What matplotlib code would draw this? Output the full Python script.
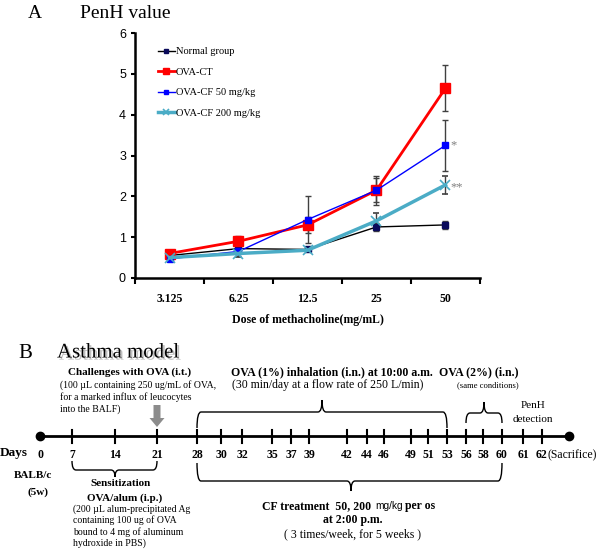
import matplotlib
matplotlib.use('Agg')
import matplotlib.pyplot as plt
import matplotlib.patheffects as pe
from matplotlib.path import Path
from matplotlib.patches import PathPatch, FancyArrow
import numpy as np

# ---- panel A data ----
doses = ['3.125', '6.25', '12.5', '25', '50']
normal = [0.55, 0.72, 0.70, 1.25, 1.30]
normal_err = [0.05, 0.08, 0.05, 0.10, 0.10]
ova_ct = [0.60, 0.90, 1.30, 2.15, 4.65]
ova_ct_err = [0.05, 0.12, 0.20, 0.35, 0.57]
cf50 = [0.47, 0.65, 1.43, 2.15, 3.25]
cf50_err = [0.05, 0.10, 0.57, 0.30, 0.63]
cf200 = [0.50, 0.60, 0.68, 1.40, 2.28]
cf200_err = [0.05, 0.08, 0.05, 0.20, 0.23]

# ---- panel B timeline ----
days = [0, 7, 14, 21, 28, 30, 32, 35, 37, 39, 42, 44, 46, 49, 51, 53, 56, 58, 60, 61, 62]
day_px = [40, 72, 115, 157, 197, 221, 242, 272, 291, 309, 347, 367, 384, 411, 428, 447, 466, 483, 502, 523, 542]

SERIF = 'Liberation Serif'
SANS = 'Liberation Sans'

fig = plt.figure(figsize=(6, 5.49), dpi=100)

# panel A axes, placed in pixel terms
W, H = 600.0, 549.0
ax = fig.add_axes([135 / W, 1 - 278 / H, (480 - 135) / W, (278 - 33) / H])
x = np.arange(len(doses)) + 0.5
ekw = dict(ecolor='#404040', elinewidth=1, capsize=2.5, capthick=1)
c1 = ax.errorbar(x, normal, yerr=normal_err, color='black', lw=1, marker='s', ms=5,
                 mfc='#0a0a5a', mec='#0a0a5a', label='Normal group', **ekw)
c2 = ax.errorbar(x, ova_ct, yerr=ova_ct_err, color='red', lw=2, marker='s', ms=7,
                 mfc='red', mec='red', label='OVA-CT', **ekw)
c3 = ax.errorbar(x, cf50, yerr=cf50_err, color='blue', lw=1, marker='s', ms=5,
                 mfc='blue', mec='blue', label='OVA-CF 50 mg/kg', **ekw)
c4 = ax.errorbar(x, cf200, yerr=cf200_err, color='#4BACC6', lw=2.5, marker='x', ms=7,
                 mew=1.2, label='OVA-CF 200 mg/kg', **ekw)

ax.text(x[4] + 0.07, cf50[4], '*', color='gray', fontsize=9, va='center', family=SERIF)
ax.text(x[4] + 0.07, cf200[4] - 0.05, '**', color='gray', fontsize=9, va='center', family=SERIF)

ax.set_xlim(0, 5)
ax.set_ylim(0, 6)
ax.set_xticks(x)
ax.set_xticklabels(doses, family=SERIF, fontweight='bold', fontsize=8.5)
ax.set_xticks(np.arange(0, 6), minor=True)
ax.tick_params(axis='x', which='major', length=0, pad=11)
ax.tick_params(axis='x', which='minor', length=4, width=1.5, direction='out')
ax.set_yticks(range(0, 7))
ax.set_yticklabels([str(v) for v in range(0, 7)], family=SANS, fontsize=9)
ax.tick_params(axis='y', length=3, width=1.5, direction='out')
for s in ['top', 'right']:
    ax.spines[s].set_visible(False)
for s in ['left', 'bottom']:
    ax.spines[s].set_linewidth(1.8)
ax.set_xlabel('Dose of methacholine(mg/mL)', family=SERIF, fontweight='bold',
              fontsize=8.5, labelpad=6)
handles = [c[0] for c in (c1, c2, c3, c4)]
ax.legend(handles=handles, labels=[h.get_label() for h in (c1, c2, c3, c4)],
          loc='upper left', bbox_to_anchor=(0.055, 0.96), frameon=False,
          prop={'family': SERIF, 'size': 7.5}, handlelength=1.6, markerscale=0.7,
          handletextpad=0.1, labelspacing=1.08, borderaxespad=0)

# overlay in pixel coords for titles and panel B
ov = fig.add_axes([0, 0, 1, 1], zorder=-1)
ov.set_xlim(0, W)
ov.set_ylim(H, 0)
ov.axis('off')

ov.text(35, 13, 'A', family=SERIF, fontsize=14, ha='center', va='center')
ov.text(80, 13, 'PenH value', family=SERIF, fontsize=14, ha='left', va='center')
ov.text(25, 353, 'B', family=SERIF, fontsize=15, ha='center', va='center')
ov.text(57, 353, 'Asthma model', family=SERIF, fontsize=15, ha='left', va='center',
        path_effects=[pe.withSimplePatchShadow(offset=(1.5, -1.5), shadow_rgbFace='gray', alpha=0.5)])

# timeline
ty = 436
ov.plot([day_px[0], 569], [ty, ty], color='black', lw=2)
ov.plot([day_px[0], 569], [ty, ty], 'o', color='black', ms=6)
for d, px in zip(days[1:], day_px[1:]):
    ov.plot([px, px], [ty - 6.5, ty + 6.5], color='black', lw=1.5)
for d, px in zip(days, day_px):
    ov.text(px, 455, str(d), family=SERIF, fontweight='bold', fontsize=8.5,
            ha='center', va='center')
ov.text(0, 453, 'Days', family=SERIF, fontweight='bold', fontsize=9.5, ha='left', va='center')
ov.text(548, 455, '(Sacrifice)', family=SERIF, fontsize=8.5, ha='left', va='center')


def brace(x0, x1, y, tip, leg, tiplen, r=4):
    # leg > 0: ends go down (tip up); leg < 0: ends go up (tip down)
    s = 1 if leg > 0 else -1
    verts = [(x0, y + leg), (x0, y), (x0 + r, y), (tip - r, y), (tip, y), (tip, y - s * tiplen),
             (tip, y), (tip + r, y), (x1 - r, y), (x1, y), (x1, y + leg)]
    codes = [Path.MOVETO, Path.CURVE3, Path.CURVE3, Path.LINETO, Path.CURVE3, Path.CURVE3,
             Path.CURVE3, Path.CURVE3, Path.LINETO, Path.CURVE3, Path.CURVE3]
    ov.add_patch(PathPatch(Path(verts, codes), fill=False, lw=1, color='black'))


brace(197, 447, 412, 322, 16, 12)
brace(466, 502, 413, 484, 10, 11)
brace(197, 502, 481, 351, -18, 10)
brace(72, 157, 470, 115, -9, 7)

# grey arrow at day 21
ov.add_patch(FancyArrow(157, 405, 0, 22, width=7, head_width=15, head_length=9,
                        length_includes_head=True, color='#8c8c8c', lw=0))

# annotations
ov.text(68, 372, 'Challenges with OVA (i.t.)', family=SERIF, fontweight='bold', fontsize=8, va='center')
ov.text(60, 385, '(100 \u00b5L containing 250 ug/mL of OVA,', family=SERIF, fontsize=7, va='center')
ov.text(60, 397, 'for a marked influx of leucocytes', family=SERIF, fontsize=7, va='center')
ov.text(60, 409, 'into the BALF)', family=SERIF, fontsize=7, va='center')
ov.text(332, 372, 'OVA (1%) inhalation (i.n.) at 10:00 a.m.', family=SERIF, fontweight='bold',
        fontsize=8.5, ha='center', va='center')
ov.text(328, 385, '(30 min/day at a flow rate of 250 L/min)', family=SERIF, fontsize=8.5,
        ha='center', va='center')
ov.text(479, 372, 'OVA (2%) (i.n.)', family=SERIF, fontweight='bold', fontsize=8.5,
        ha='center', va='center')
ov.text(488, 385, '(same conditions)', family=SERIF, fontsize=6.2, ha='center', va='center')
ov.text(533, 406, 'PenH', family=SERIF, fontsize=8, ha='center', va='center')
ov.text(533, 419, 'detection', family=SERIF, fontsize=8, ha='center', va='center')
ov.text(33, 475, 'BALB/c', family=SERIF, fontweight='bold', fontsize=8, ha='center', va='center')
ov.text(38, 492, '(5w)', family=SERIF, fontweight='bold', fontsize=8, ha='center', va='center')
ov.text(121, 484, 'Sensitization', family=SERIF, fontweight='bold', fontsize=8, ha='center', va='center')
ov.text(125, 498, 'OVA/alum (i.p.)', family=SERIF, fontweight='bold', fontsize=8, ha='center', va='center')
ov.text(73, 509, '(200 \u00b5L alum-precipitated Ag', family=SERIF, fontsize=7, va='center')
ov.text(73, 520, 'containing 100 ug of OVA', family=SERIF, fontsize=7, va='center')
ov.text(73, 532, 'bound to 4 mg of aluminum', family=SERIF, fontsize=7, va='center')
ov.text(73, 543, 'hydroxide in PBS)', family=SERIF, fontsize=7, va='center')
ov.text(262, 506, 'CF treatment  50, 200', family=SERIF, fontweight='bold', fontsize=8.5, va='center')
ov.text(375, 506, 'mg/kg', family=SANS, fontsize=7.3, va='center')
ov.text(405, 506, 'per os', family=SERIF, fontweight='bold', fontsize=8.5, va='center')
ov.text(353, 520, 'at 2:00 p.m.', family=SERIF, fontweight='bold', fontsize=8.5, ha='center', va='center')
ov.text(353, 534, '( 3 times/week, for 5 weeks )', family=SERIF, fontsize=8.5, ha='center', va='center')

fig.savefig('out.png', dpi=100)
